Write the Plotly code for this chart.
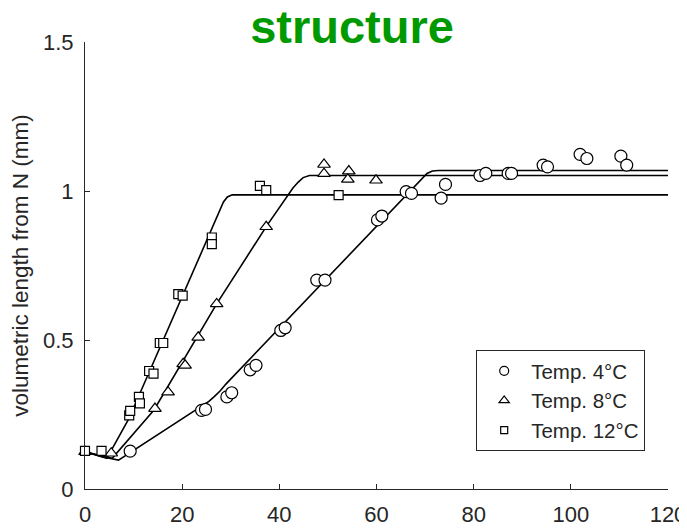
import plotly.graph_objects as go

# ---- data ----
x4 = [9.3, 24.0, 24.8, 29.2, 30.2, 34.0, 35.2, 40.3, 41.2, 47.7, 49.4, 60.2, 61.1,
      66.1, 67.2, 73.3, 74.2, 81.3, 82.5, 87.1, 87.8, 94.3, 95.2, 101.9, 103.3, 110.3, 111.5]
y4 = [0.127, 0.264, 0.267, 0.309, 0.323, 0.400, 0.415, 0.532, 0.541, 0.701, 0.701, 0.903, 0.916,
      0.998, 0.992, 0.976, 1.022, 1.052, 1.059, 1.059, 1.059, 1.087, 1.081, 1.123, 1.109, 1.117, 1.087]

x8 = [0, 5.4, 14.4, 17.1, 20.2, 20.6, 23.3, 27.1, 37.3, 49.2, 49.2, 54.3, 54.1, 59.9]
y8 = [0.125, 0.12, 0.27, 0.325, 0.42, 0.415, 0.509, 0.621, 0.88, 1.089, 1.058, 1.067, 1.039, 1.036]

x12 = [0, 3.4, 9.1, 9.3, 11.1, 11.3, 13.2, 14.1, 15.4, 16.1, 19.2, 20.1, 26.1, 26.1, 36.0, 37.3, 52.2]
y12 = [0.128, 0.128, 0.247, 0.262, 0.309, 0.287, 0.396, 0.387, 0.49, 0.49, 0.654, 0.649,
       0.844, 0.822, 1.017, 1.003, 0.986]

# fitted curves (vertices)
fit4_x = [0, 3.5, 6.9, 25.5, 26.6, 27.8, 29.0, 69.5, 70.4, 71.5, 72.8, 120]
fit4_y = [0.125, 0.108, 0.097, 0.294, 0.310, 0.329, 0.352, 1.045, 1.059, 1.067, 1.069, 1.069]

fit8_x = [0, 3.0, 5.6, 14.2, 27.1, 37.4, 42.8, 43.9, 44.9, 46.2, 120]
fit8_y = [0.125, 0.112, 0.103, 0.265, 0.621, 0.883, 1.010, 1.030, 1.045, 1.052, 1.052]

fit12_x = [0, 2.5, 4.5, 9.0, 27.0, 27.8, 28.5, 29.3, 30.3, 120]
fit12_y = [0.125, 0.112, 0.103, 0.235, 0.912, 0.940, 0.963, 0.980, 0.987, 0.987]

x_ticks = [0, 20, 40, 60, 80, 100, 120]
y_ticks = [0, 0.5, 1, 1.5]
y_tick_labels = ["0", "0.5", "1", "1.5"]

labels = ["Temp. 4°C", "Temp. 8°C", "Temp. 12°C"]
title_text = "structure"
ylabel = "volumetric length from N (mm)"

INK = "#262626"
W, H = 679, 521  # page body has an 8 px margin

fig = go.Figure()

for fx, fy in [(fit4_x, fit4_y), (fit8_x, fit8_y), (fit12_x, fit12_y)]:
    fig.add_trace(go.Scatter(x=fx, y=fy, mode="lines",
                             line=dict(color="black", width=1.6),
                             showlegend=False, hoverinfo="skip"))

series = [(x4, y4, "circle", 12, 9), (x8, y8, "triangle-up", 11, 9), (x12, y12, "square", 9, 7)]
for (xs, ys, sym, sz, lsz), name in zip(series, labels):
    fig.add_trace(go.Scatter(x=xs, y=ys, mode="markers", showlegend=False,
                             marker=dict(symbol=sym, size=sz, color="white",
                                         line=dict(color="black", width=1.2)),
                             cliponaxis=False))
for (xs, ys, sym, sz, lsz), name in zip(series, labels):
    fig.add_trace(go.Scatter(x=[None], y=[None], mode="markers", name=name,
                             marker=dict(symbol=sym, size=lsz, color="white",
                                         line=dict(color="black", width=1.2))))

fig.update_layout(
    width=W, height=H,
    margin=dict(l=77, r=19, t=34, b=40, pad=0),
    paper_bgcolor="white", plot_bgcolor="white",
    font=dict(family="Liberation Sans, Arial, sans-serif", color=INK, size=22),
    title=dict(text="<b>" + title_text + "</b>", x=344 / W, xanchor="center",
               xref="container",
               y=1 - 19 / H, yanchor="middle", automargin=False,
               font=dict(family="Liberation Sans, Arial, sans-serif",
                         size=47, color="#009900")),
    xaxis=dict(range=[0, 120], tickvals=x_ticks, ticks="inside", ticklen=5, tickcolor=INK,
               showline=True, linecolor=INK, linewidth=1.2, showgrid=False, zeroline=False,
               tickfont=dict(size=22, color=INK), ticklabelstandoff=5, automargin=False),
    yaxis=dict(range=[0, 1.5], tickvals=y_ticks, ticktext=y_tick_labels, ticks="inside",
               ticklen=5, tickcolor=INK, showline=True, linecolor=INK, linewidth=1.2,
               showgrid=False, zeroline=False, tickfont=dict(size=22, color=INK),
               ticklabelstandoff=6, automargin=False,
               title=dict(text=ylabel, font=dict(size=22.5, color=INK), standoff=8)),
    legend=dict(x=0.671, y=0.311, xanchor="left", yanchor="top",
                bordercolor=INK, borderwidth=1, bgcolor="white", itemwidth=44,
                font=dict(size=20.5, color=INK), tracegroupgap=0),
)

fig.write_html("out.html")
